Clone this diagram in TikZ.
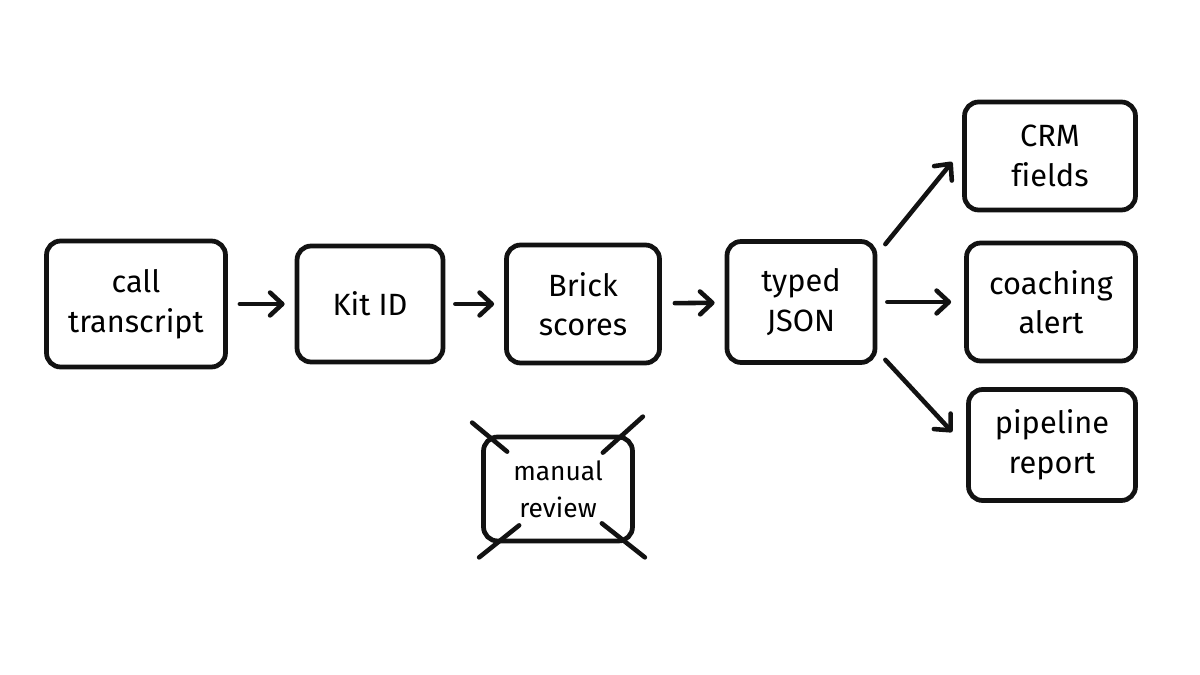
\documentclass[tikz,border=0pt]{standalone}
\usepackage{fontspec}
\setmainfont{Fira Sans}[Ligatures=CommonOff]
\usetikzlibrary{arrows.meta,calc}
\definecolor{figline}{RGB}{18,18,18}
\tikzset{
  box/.style   ={draw=figline, line width=2.7pt, rounded corners=8pt, align=center, inner sep=0pt,
                 font=\fontsize{17.5}{22.5}\selectfont},
  flow/.style  ={draw=figline, line width=2.6pt, line cap=round,
                 -{Straight Barb[length=7pt,width=13pt,round]}},
  cross/.style ={draw=figline, line width=2.6pt, line cap=round},
}

\begin{document}
\begin{tikzpicture}[x=0.02cm,y=-0.02cm]
  \fill[white] (0,0) rectangle (1200,675);
  \useasboundingbox (0,0) rectangle (1200,675);
  \node[box,minimum width=3.58cm,minimum height=2.52cm] (trans)  at (136,304)  {call\\transcript};
  \node[box,minimum width=2.92cm,minimum height=2.32cm] (kit)    at (370,304)  {Kit ID};
  \node[box,minimum width=3.06cm,minimum height=2.36cm] (brick)  at (583,304)  {Brick\\scores};
  \node[box,minimum width=2.96cm,minimum height=2.42cm] (json)   at (801,302)  {typed\\JSON};
  \node[box,minimum width=3.42cm,minimum height=2.16cm] (crm)    at (1050,156) {CRM\\fields};
  \node[box,minimum width=3.38cm,minimum height=2.36cm] (coach)  at (1051,302) {coaching\\alert};
  \node[box,minimum width=3.34cm,minimum height=2.22cm] (pipe)   at (1052,445) {pipeline\\report};
  \node[box,minimum width=2.98cm,minimum height=2.08cm,font=\fontsize{15}{21}\selectfont] (review) at (558,489) {manual\\review};
  \draw[flow,shorten <=0.24cm,shorten >=0.2cm] (trans) -- (kit);
  \draw[flow,shorten <=0.2cm,shorten >=0.2cm] (kit) -- (brick);
  \draw[flow,shorten <=0.26cm,shorten >=0.2cm] (brick) -- (json);
  \draw[flow,shorten <=0.2cm,shorten >=0.26cm] (json) -- (coach);
  \draw[flow] ($(json.north east)+(8,5)$) -- ($(crm.west)+(-10,6)$);
  \draw[flow] ($(json.south east)+(8,-5)$) -- ($(pipe.west)+(-14,-13)$);
  \draw[cross] ($(review.north west)+(-9,-12)$) -- ($(review.north west)+(26,17)$);
  \draw[cross] ($(review.north east)+(8,-18)$) -- ($(review.north east)+(-32,18)$);
  \draw[cross] ($(review.south west)+(-2,14)$) -- ($(review.south west)+(38,-18)$);
  \draw[cross] ($(review.south east)+(10,14)$) -- ($(review.south east)+(-33,-20)$);
\end{tikzpicture}
\end{document}
